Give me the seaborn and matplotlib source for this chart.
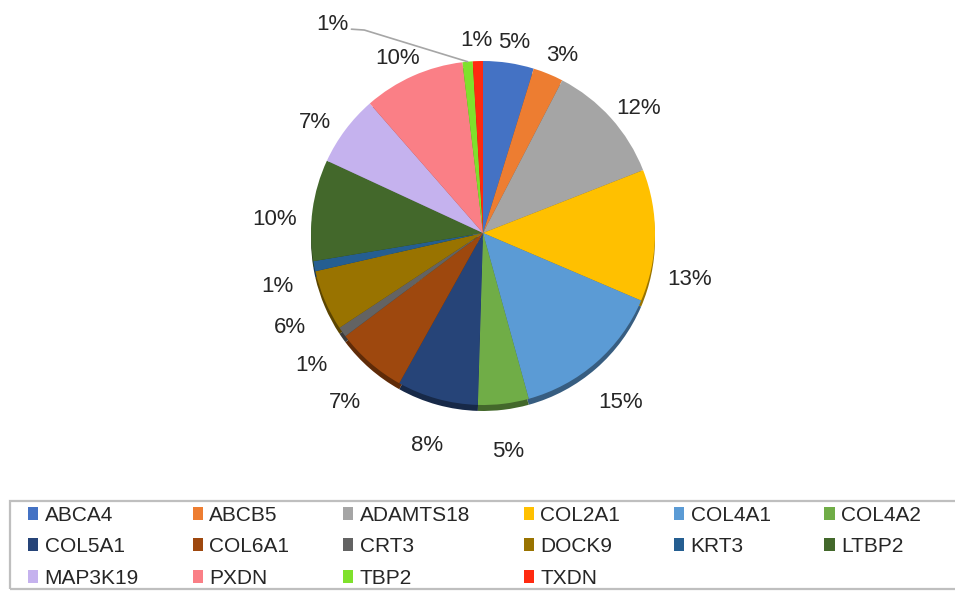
import numpy as np
import matplotlib
matplotlib.use("Agg")
import matplotlib.pyplot as plt
from matplotlib.patches import Patch, Rectangle
import seaborn as sns

# datos del gráfico (valores tal como aparecen en las etiquetas)
genes = ['ABCA4', 'ABCB5', 'ADAMTS18', 'COL2A1', 'COL4A1', 'COL4A2',
         'COL5A1', 'COL6A1', 'CRT3', 'DOCK9', 'KRT3', 'LTBP2',
         'MAP3K19', 'PXDN', 'TBP2', 'TXDN']
valores = [5, 3, 12, 13, 15, 5, 8, 7, 1, 6, 1, 10, 7, 10, 1, 1]
colores = ['#4472C4', '#ED7D31', '#A5A5A5', '#FFC000', '#5B9BD5', '#70AD47',
           '#264478', '#9E480E', '#636363', '#997300', '#255E91', '#43682B',
           '#C5B2EE', '#FA7F86', '#7FE12C', '#FF2A10']

sns.set_theme(style="white")
plt.rcParams['font.family'] = ['Liberation Sans', 'DejaVu Sans']

fig = plt.figure(figsize=(9.55, 5.91), dpi=100)
# eje centrado en el pastel
ax = fig.add_axes([0.2536, 0.1983, 0.5043, 0.8149])

paleta = sns.color_palette(colores)
wedges, _ = ax.pie(valores, colors=paleta, startangle=90, counterclock=False,
                   radius=1.0, wedgeprops=dict(linewidth=0),
                   shadow={'ox': 0.0, 'oy': -0.025, 'shade': 0.4, 'alpha': 1})
ax.set_xlim(-1.4, 1.4)
ax.set_ylim(-1.4, 1.4)
ax.set_aspect('equal')
ax.axis('off')

# pequeños ajustes de posición de algunas etiquetas (como en Excel)
ajuste = {'COL2A1': (-0.02, -0.17)}

# etiquetas de porcentaje
for w, v, g in zip(wedges, valores, genes):
    ang = np.deg2rad((w.theta1 + w.theta2) / 2)
    if g == 'TBP2':
        # etiqueta con línea guía
        px, py = np.cos(ang), np.sin(ang)
        ax.plot([px, -0.69, -0.765], [py, 1.18, 1.185], color='#A6A6A6',
                lw=1.2, clip_on=False)
        ax.text(-0.78, 1.215, f'{v}%', ha='right', va='center', fontsize=16,
                color='#262626', clip_on=False)
        continue
    dx, dy = ajuste.get(g, (0, 0))
    x = 1.22 * np.cos(ang) + dx
    y = 1.2 * np.sin(ang) - 0.08 + dy
    ax.text(x, y, f'{v}%', ha='center', va='center', fontsize=16,
            color='#262626', clip_on=False)

# leyenda en filas (matplotlib llena por columnas)
ncol = 6
handles = [Patch(facecolor=c, edgecolor='none') for c in colores]
orden = []
for c in range(ncol):
    for r in range(3):
        i = r * ncol + c
        if i < len(genes):
            orden.append(i)
leg = fig.legend([handles[i] for i in orden], [genes[i] for i in orden],
                 ncol=ncol, loc='upper left',
                 bbox_to_anchor=(0.0293, 0.0, 0.935, 0.1445),
                 mode='expand', frameon=False, borderpad=0, borderaxespad=0,
                 handlelength=0.5, handleheight=0.55, handletextpad=0.3,
                 labelspacing=0.6, prop={'size': 15})
for t in leg.get_texts():
    t.set_color('#262626')

# marco de la leyenda (se sale por la derecha como en el original)
fig.add_artist(Rectangle((10 / 955, 2 / 591), 960 / 955, 88 / 591,
                         transform=fig.transFigure, fill=False,
                         edgecolor='#BFBFBF', linewidth=1.6, clip_on=False))

fig.savefig('out.png', dpi=100)
